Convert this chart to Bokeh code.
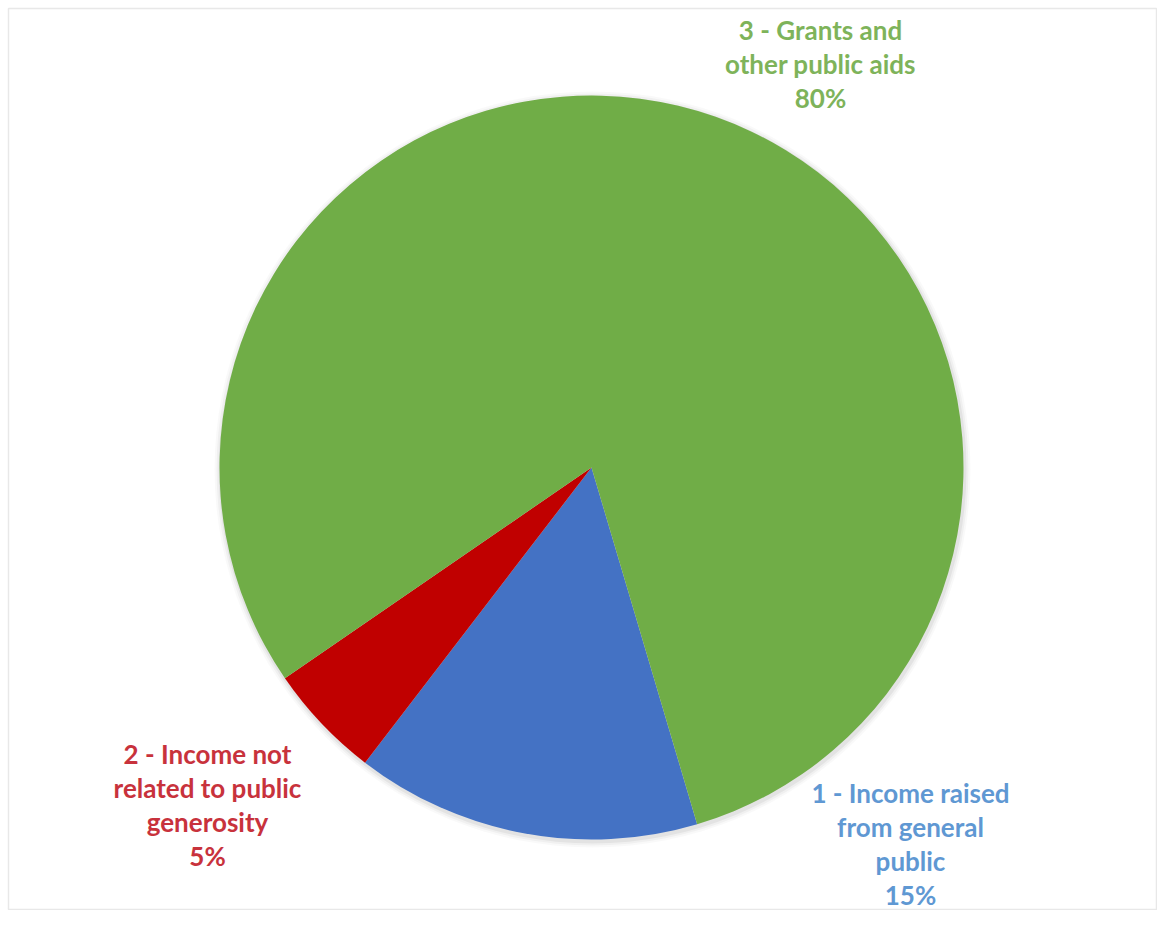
import math
from bokeh.plotting import figure
from bokeh.models import Range1d
from bokeh.core.properties import value
from bokeh.embed import file_html
from bokeh.resources import INLINE

# ---- data ----
categories = ["1 - Income raised\nfrom general\npublic",
              "2 - Income not\nrelated to public\ngenerosity",
              "3 - Grants and\nother public aids"]
shares = [15, 5, 80]
slice_colors = ["#4472C4", "#C00000", "#70AD47"]
label_colors = ["#5f98d3", "#c8323c", "#7eb35a"]

# ---- layout ----
W, H = 1157, 910
cx, cy, R = 591, 443, 372          # pie centre/radius in figure units
first_angle_deg = 163.5            # clockwise from 12 o'clock (Excel style)
label_pos = [(910, 118), (207, 157), (820, 881)]   # (x, y of first line)
line_step = 34
font_px = 26

p = figure(width=W, height=H, output_backend="svg", toolbar_location=None,
           x_range=Range1d(0, W), y_range=Range1d(0, H), min_border=0)
p.axis.visible = False
p.grid.visible = False
p.outline_line_color = None
p.background_fill_color = "white"
p.border_fill_color = "white"

# faint chart-area frame
p.quad(left=[8], right=[W - 1], bottom=[1], top=[H - 8], fill_color=None,
       line_color="#e8e8e8", line_width=1.5)

# soft shadow
for k, a in [(6, 0.025), (4, 0.035), (2, 0.05)]:
    p.circle(x=[cx + 1], y=[cy - 2], radius=R + k, fill_color="black",
             fill_alpha=a, line_color=None)

total = float(sum(shares))
start = math.radians(90 - first_angle_deg)
for s, col in zip(shares, slice_colors):
    end = start - 2 * math.pi * s / total
    p.wedge(x=[cx], y=[cy], radius=R, start_angle=start, end_angle=end,
            direction="clock", fill_color=col, line_color=None)
    start = end

for cat, s, col, (lx, ly) in zip(categories, shares, label_colors, label_pos):
    lines = cat.split("\n") + [f"{s}%"]
    xs = [lx] * len(lines)
    ys = [ly - i * line_step for i in range(len(lines))]
    p.text(x=xs, y=ys, text=lines, text_color=col, text_align="center",
           text_baseline="middle", text_font=value("Lato"),
           text_font_style="bold", text_font_size=f"{font_px}px")

open("out.html", "w").write(file_html(p, INLINE))
